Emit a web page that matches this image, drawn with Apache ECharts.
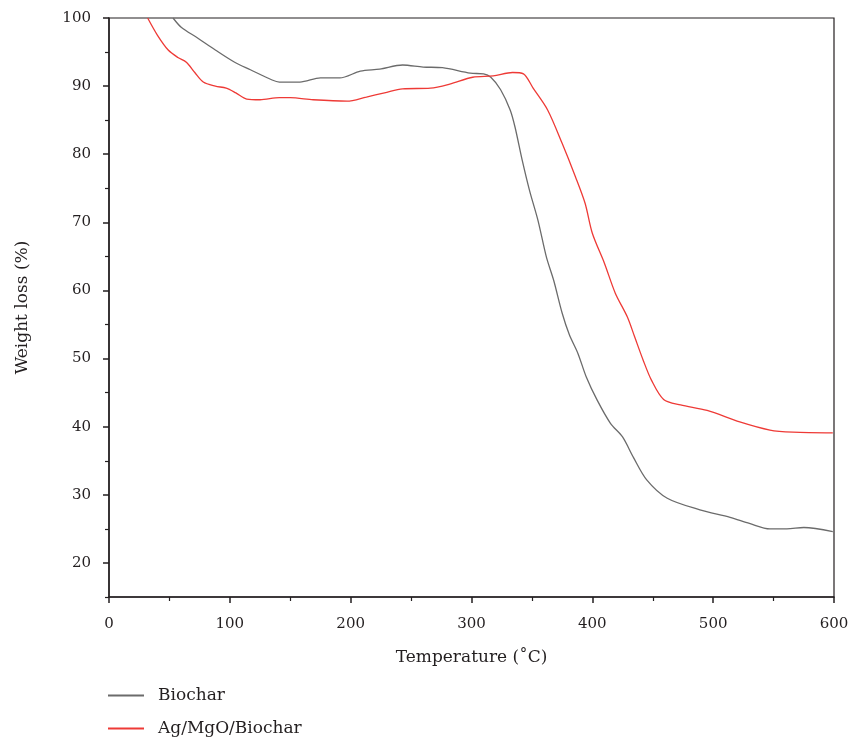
<!DOCTYPE html>
<html>
<head>
<meta charset="utf-8">
<script src="https://cdn.jsdelivr.net/npm/echarts@6/dist/echarts.min.js"></script>
<style>
  html, body { margin: 0; padding: 0; background: #fff; }
  #main { width: 853px; height: 737px; }
</style>
</head>
<body>
<div id="main"></div>
<script>
// series names
var seriesNames = ['Biochar', 'Ag/MgO/Biochar'];

// Biochar: temperature (°C) / weight (%)
var biocharT = [53, 60, 73, 88, 104, 117, 135, 141, 158, 175, 191, 208, 224, 243, 260, 276, 299, 310, 316, 324, 332, 336, 342, 348, 355, 362, 368, 375, 381, 388, 395, 404, 415, 425, 434, 445, 462, 489, 514, 530, 547, 561, 575, 599];
var biocharW = [100, 98.6, 97.1, 95.3, 93.5, 92.4, 90.9, 90.6, 90.6, 91.2, 91.2, 92.2, 92.5, 93.1, 92.8, 92.7, 91.9, 91.8, 91.3, 89.5, 86.5, 84.0, 79.1, 74.7, 70.3, 64.9, 61.5, 56.7, 53.5, 50.8, 47.3, 43.9, 40.5, 38.5, 35.5, 32.2, 29.5, 27.8, 26.7, 25.8, 25.0, 25.0, 25.2, 24.6];

// Ag/MgO/Biochar
var agT = [32, 40, 49, 57, 64, 71, 78, 88, 97, 105, 114, 125, 141, 150, 169, 197, 213, 228, 243, 266, 282, 301, 318, 334, 343, 351, 363, 375, 386, 394, 400, 410, 419, 429, 435, 442, 449, 459, 473, 495, 522, 547, 566, 599];
var agW = [100, 97.5, 95.3, 94.2, 93.5, 92.0, 90.6, 90.0, 89.7, 89.0, 88.1, 88.0, 88.3, 88.3, 88.0, 87.8, 88.4, 89.0, 89.6, 89.7, 90.3, 91.3, 91.5, 92.0, 91.8, 89.7, 86.5, 81.6, 76.7, 72.8, 68.4, 64.0, 59.6, 56.1, 53.2, 49.8, 46.8, 44.0, 43.2, 42.4, 40.7, 39.5, 39.2, 39.1];

// tick labels
var yMajorTicks = [20, 30, 40, 50, 60, 70, 80, 90, 100];
var yMinorTicks = [15, 25, 35, 45, 55, 65, 75, 85, 95];

function zip(xs, ys) {
  return xs.map(function (x, i) { return [x, ys[i]]; });
}

var chartDom = document.getElementById('main');
var myChart = echarts.init(chartDom);
var font = 'DejaVu Serif';
var ink = '#231f20';

// one legend per row, stacked like the original
function legendRow(name, top) {
  return {
    left: 108,
    top: top,
    padding: 0,
    itemWidth: 36,
    itemHeight: 14,
    icon: 'path://M0,0 L1,0 L1,0.06 L0,0.06 Z',
    textStyle: { fontFamily: font, fontSize: 17, color: ink, padding: [0, 0, 0, 9] },
    data: [name]
  };
}

var option = {
  animation: false,
  textStyle: { fontFamily: font },
  grid: {
    left: 109, right: 19, top: 18, bottom: 140,
    show: true, borderColor: ink, borderWidth: 1.2
  },
  legend: [legendRow(seriesNames[0], 687), legendRow(seriesNames[1], 720)],
  xAxis: {
    type: 'value',
    min: 0, max: 600, interval: 100,
    name: 'Temperature (˚C)',
    nameLocation: 'middle',
    nameGap: 52,
    nameTextStyle: { fontFamily: font, fontSize: 17, color: ink },
    axisLine: { lineStyle: { color: ink, width: 1.5 } },
    axisTick: { show: true, length: 6, lineStyle: { color: ink, width: 1.5 } },
    minorTick: { show: true, splitNumber: 2, length: 4, lineStyle: { color: ink, width: 1.2 } },
    axisLabel: { fontFamily: font, fontSize: 15, color: ink, margin: 20 },
    splitLine: { show: false }
  },
  yAxis: [{
    type: 'value',
    min: 15, max: 100,
    name: 'Weight loss (%)',
    nameLocation: 'middle',
    nameGap: 78,
    nameTextStyle: { fontFamily: font, fontSize: 17, color: ink },
    axisLine: { show: true, lineStyle: { color: ink, width: 1.5 } },
    axisTick: { show: true, length: 6, customValues: yMajorTicks, lineStyle: { color: ink, width: 1.5 } },
    axisLabel: { fontFamily: font, fontSize: 15, color: ink, margin: 18, customValues: yMajorTicks },
    splitLine: { show: false }
  }, {
    type: 'value',
    min: 15, max: 100,
    position: 'left',
    axisLine: { show: false },
    axisTick: { show: true, length: 4, customValues: yMinorTicks, lineStyle: { color: ink, width: 1.2 } },
    axisLabel: { show: false },
    splitLine: { show: false }
  }],
  series: [
    {
      name: seriesNames[0],
      type: 'line',
      data: zip(biocharT, biocharW),
      smooth: 0.3,
      showSymbol: false,
      clip: true,
      lineStyle: { color: '#6b6b6b', width: 1.3 },
      itemStyle: { color: '#6b6b6b' }
    },
    {
      name: seriesNames[1],
      type: 'line',
      data: zip(agT, agW),
      smooth: 0.3,
      showSymbol: false,
      clip: true,
      lineStyle: { color: '#ee3a36', width: 1.3 },
      itemStyle: { color: '#ee3a36' }
    }
  ]
};

option && myChart.setOption(option);
</script>
</body>
</html>
